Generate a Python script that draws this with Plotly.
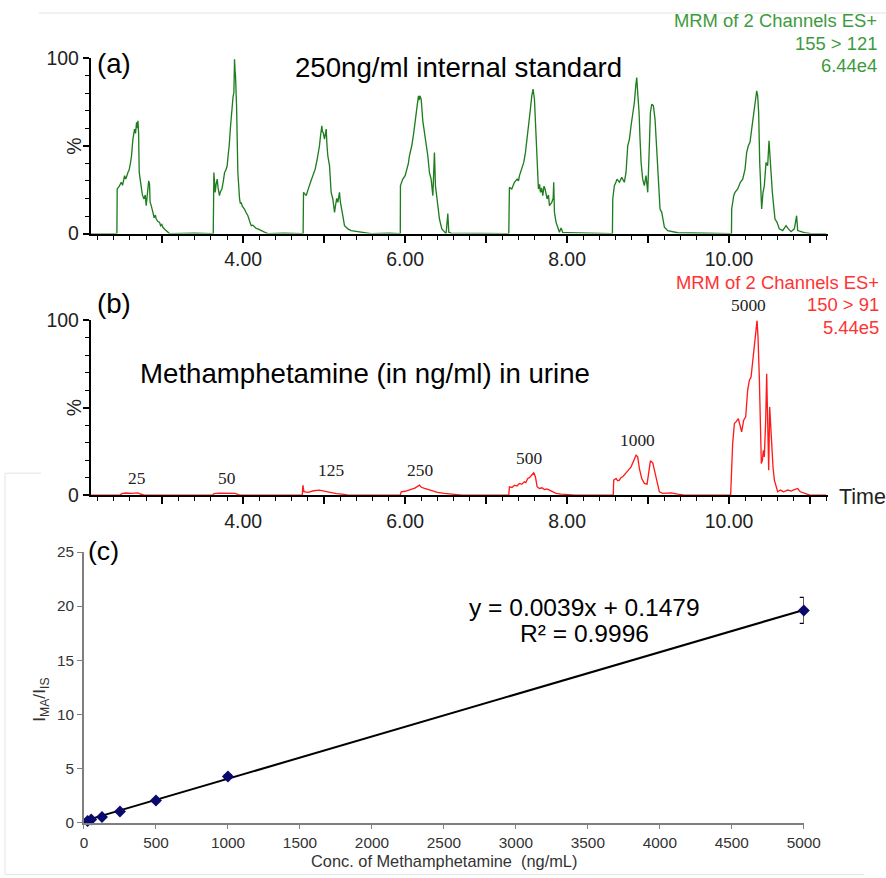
import plotly.graph_objects as go

# target page geometry and the on-screen placement of the figure canvas
PAGE_W, PAGE_H = 886, 878
S = 0.977            # canvas-to-screen scale
BX, BY = 3, 10       # canvas origin on screen
W = round((PAGE_W - BX) / S)
H = round((PAGE_H - BY) / S)

# ---- (a) internal standard chromatogram, 155 > 121 (time in min, % of max) ----
IS_TRACE = [
    (2.12, 0), (2.44, 0),
    (2.444, 25.4), (2.47, 27), (2.494, 29.2), (2.51, 27.5), (2.535, 33), (2.55, 31), (2.576, 34.8),
    (2.59, 36), (2.609, 40.5), (2.62, 44), (2.638, 53.8), (2.658, 59.5), (2.67, 57), (2.683, 63.3),
    (2.69, 60), (2.700, 64.2), (2.708, 57.6), (2.716, 34.8), (2.73, 30), (2.741, 27.3), (2.755, 22),
    (2.774, 19.7), (2.79, 22), (2.802, 15.9), (2.812, 20), (2.823, 23.5), (2.833, 30), (2.843, 28.2),
    (2.85, 18), (2.864, 15.9), (2.875, 13), (2.885, 12.1), (2.9, 9), (2.915, 10.5), (2.926, 8.3),
    (2.945, 7), (2.967, 6.4), (2.98, 4.5), (2.995, 5.2), (3.008, 3.6), (3.03, 2.5), (3.049, 1.7),
    (3.07, 0.8), (3.09, 0), (3.40, 0.3), (3.63, 0),
    (3.638, 34.8), (3.654, 23.5), (3.665, 28), (3.679, 31), (3.69, 26), (3.707, 21.6), (3.72, 24),
    (3.737, 25.4), (3.755, 30), (3.770, 34.8), (3.785, 36), (3.802, 38.6), (3.815, 45), (3.827, 50),
    (3.844, 61.4), (3.864, 74.6), (3.875, 78), (3.885, 80.3), (3.893, 99.2), (3.899, 93), (3.905, 89.8),
    (3.918, 72.7), (3.934, 34.8), (3.945, 25), (3.955, 19.7), (3.965, 17), (3.975, 17.8), (3.99, 15.5),
    (4.016, 14), (4.035, 12), (4.058, 10.2), (4.08, 7), (4.099, 4.5), (4.12, 4.8), (4.140, 3.6),
    (4.16, 2.9), (4.181, 2.7), (4.20, 2.2), (4.222, 1.7), (4.263, 0.8), (4.305, 0), (4.5, 0.3), (4.74, 0),
    (4.745, 23.5), (4.778, 21.6), (4.798, 25.4), (4.815, 27), (4.831, 29.2), (4.86, 33), (4.875, 35),
    (4.889, 36.7), (4.914, 42.4), (4.93, 46), (4.942, 50), (4.955, 55.7), (4.971, 61.4), (4.978, 58),
    (4.988, 57.6), (5.004, 53.8), (5.015, 58), (5.025, 59.5), (5.035, 50), (5.045, 44.3), (5.066, 38.6),
    (5.076, 30), (5.086, 23.5), (5.107, 19.7), (5.12, 15), (5.128, 12.1), (5.14, 16), (5.155, 20),
    (5.169, 17.8), (5.189, 23.5), (5.20, 18), (5.210, 15.9), (5.230, 10.2), (5.251, 4.5), (5.27, 3.5),
    (5.293, 2.7), (5.333, 1.7), (5.416, 1.1), (5.498, 0.8), (5.580, 0), (5.8, 0.2), (5.94, 0),
    (5.942, 27.3), (5.955, 29), (5.971, 31), (6.000, 33), (6.025, 36.7), (6.04, 40), (6.053, 44.3),
    (6.082, 50), (6.107, 57.6), (6.132, 65.2), (6.148, 72.7), (6.165, 78.4), (6.172, 76), (6.181, 78.4),
    (6.198, 76.5), (6.218, 64.2), (6.239, 57.6), (6.259, 50), (6.280, 44.3), (6.300, 34.8), (6.321, 31),
    (6.342, 21.6), (6.352, 30), (6.362, 46.2), (6.374, 27.3), (6.39, 20), (6.404, 15.9), (6.424, 8.3),
    (6.453, 2.7), (6.486, 0.8), (6.506, 0), (6.527, 11.4), (6.539, 0.8), (6.568, 0.3),
    (6.8, 0.3), (7.1, 0.2), (7.28, 0),
    (7.288, 26.3), (7.317, 25.4), (7.33, 27), (7.350, 29.2), (7.383, 31), (7.40, 30), (7.412, 33),
    (7.44, 36.7), (7.465, 40.5), (7.486, 46.2), (7.506, 55.7), (7.527, 63.3), (7.547, 70.8), (7.564, 78.4),
    (7.580, 82.2), (7.597, 76.5), (7.613, 57.6), (7.630, 36.7), (7.646, 25.4), (7.66, 28), (7.671, 23.5),
    (7.685, 26), (7.700, 21.6), (7.715, 27), (7.728, 25.4), (7.753, 19.7), (7.77, 22), (7.782, 15.9),
    (7.811, 17.8), (7.828, 20), (7.835, 29.2), (7.844, 12.1), (7.864, 6.4), (7.885, 3.6), (7.905, 0.8),
    (7.926, 3.2), (7.947, 0.6), (8.009, 0.6), (8.132, 0.4), (8.4, 0.2), (8.56, 0),
    (8.564, 19.7), (8.584, 27.3), (8.60, 29), (8.617, 31), (8.646, 29.2), (8.675, 32), (8.707, 29.2),
    (8.728, 34.8), (8.749, 50), (8.770, 53.8), (8.790, 61.4), (8.811, 67.1), (8.831, 74.6), (8.848, 84.1),
    (8.860, 88.8), (8.872, 80.3), (8.889, 68.9), (8.901, 53.8), (8.914, 40.5), (8.934, 31), (8.954, 27.3),
    (8.975, 33), (8.996, 23.5), (9.016, 50), (9.029, 68.9), (9.046, 73.7), (9.066, 72.7), (9.086, 65.2),
    (9.107, 46.2), (9.127, 31), (9.148, 14), (9.169, 12.1), (9.181, 8.3), (9.202, 3.6), (9.243, 1.7),
    (9.305, 1.1), (9.366, 0.5), (9.7, 0.2), (10.03, 0),
    (10.033, 14), (10.058, 21.6), (10.074, 23.5), (10.107, 25.4), (10.140, 29.2), (10.169, 31),
    (10.198, 36.7), (10.218, 46.2), (10.239, 50), (10.259, 51.9), (10.280, 59.5), (10.296, 65.2),
    (10.313, 72.7), (10.329, 76.5), (10.342, 81.3), (10.354, 78.4), (10.366, 68.9), (10.379, 40.5),
    (10.391, 19.7), (10.403, 14), (10.420, 23.5), (10.436, 27.3), (10.457, 40.5), (10.477, 38.6),
    (10.494, 52.8), (10.506, 44.3), (10.519, 31), (10.535, 23.5), (10.551, 15.9), (10.568, 8.3),
    (10.593, 6.4), (10.621, 2.7), (10.663, 1.7), (10.704, 4.5), (10.733, 2.7), (10.765, 1.1),
    (10.807, 2.7), (10.835, 10.2), (10.848, 1.7), (10.889, 1.1), (10.930, 0.5), (11.012, 0), (11.2, 0),
]

# ---- (b) methamphetamine chromatogram, 150 > 91 ----
MA_TRACE = [
    (2.12, 0), (2.48, 0), (2.50, 0.8), (2.55, 1.2), (2.62, 1.0), (2.70, 1.3), (2.74, 0.5), (2.78, 0),
    (3.62, 0), (3.64, 0.9), (3.70, 1.1), (3.80, 1.2), (3.90, 1.0), (3.94, 0.3), (3.97, 0),
    (4.73, 0), (4.737, 5.7), (4.75, 2.0), (4.80, 1.6), (4.87, 2.5), (4.94, 2.9), (5.00, 2.3), (5.05, 1.7),
    (5.10, 1.2), (5.15, 0.9), (5.22, 0.6), (5.27, 0.2), (5.3, 0),
    (5.94, 0), (5.951, 1.9), (6.0, 2.2), (6.074, 3.2), (6.12, 4.0), (6.177, 5.7), (6.20, 4.5), (6.239, 3.8),
    (6.28, 3.2), (6.321, 2.9), (6.40, 1.6), (6.486, 1.0), (6.56, 0.6), (6.63, 0.2), (6.7, 0),
    (7.28, 0), (7.288, 4.8), (7.320, 4.4), (7.350, 5.7), (7.38, 5.2), (7.412, 6.7), (7.44, 6.2),
    (7.473, 7.6), (7.49, 7.2), (7.514, 9.5), (7.535, 10), (7.556, 11.4), (7.588, 12.8), (7.609, 10.5),
    (7.630, 4.8), (7.658, 3.8), (7.69, 4.2), (7.720, 3.2), (7.75, 3.5), (7.782, 2.9), (7.823, 1.9),
    (7.864, 1.0), (7.926, 0.6), (8.008, 0.4), (8.1, 0),
    (8.57, 0), (8.576, 8.6), (8.605, 9.5), (8.625, 8.2), (8.646, 8.6), (8.665, 10), (8.687, 10.5),
    (8.728, 12.4), (8.757, 14.3), (8.790, 16.2), (8.823, 20), (8.852, 22.9), (8.872, 21.9), (8.893, 15.2),
    (8.922, 9.5), (8.955, 6.7), (8.988, 6.3), (9.012, 16.2), (9.029, 19.6), (9.058, 18.5), (9.078, 14.3),
    (9.099, 8.6), (9.119, 4.8), (9.140, 1.9), (9.181, 1.0), (9.284, 1.3), (9.366, 0.6), (9.45, 0),
    (10.02, 0), (10.033, 23.8), (10.045, 29.5), (10.066, 41), (10.086, 41.9), (10.115, 43.8), (10.14, 38.1),
    (10.156, 36.2), (10.181, 42.9), (10.206, 44.8), (10.230, 60), (10.251, 65.7), (10.272, 67.6),
    (10.292, 75.2), (10.313, 86.7), (10.333, 94.3), (10.346, 100), (10.358, 90.5), (10.374, 67.6),
    (10.387, 39), (10.399, 18.1), (10.412, 20), (10.424, 25.7), (10.436, 21.9), (10.453, 42.9),
    (10.465, 69.5), (10.477, 48.6), (10.490, 14.3), (10.502, 50.5), (10.514, 41), (10.527, 25.7),
    (10.543, 16.2), (10.560, 8.6), (10.580, 4.8), (10.601, 1.9), (10.634, 2.9), (10.675, 1.9),
    (10.724, 2.9), (10.765, 2.3), (10.807, 3.2), (10.848, 3.8), (10.881, 1.9), (10.930, 1.0),
    (10.971, 0.4), (11.0, 0), (11.2, 0),
]

# concentration tag for each MA peak (ng/ml) and the retention time it sits over
MA_LABELS = ["25", "50", "125", "250", "500", "1000", "5000"]
MA_LABEL_TIME = [2.69, 3.80, 5.086, 6.185, 7.531, 8.864, 10.235]

TIME_TICKS = [3, 4, 5, 6, 7, 8, 9, 10, 11]
TIME_TICKTEXT = ["", "4.00", "", "6.00", "", "8.00", "", "10.00", ""]

# ---- (c) calibration curve ----
CONC = [25, 50, 125, 250, 500, 1000, 5000]
RATIO = [0.15, 0.28, 0.52, 1.02, 2.03, 4.25, 19.6]
RATIO_ERR = [0.02, 0.03, 0.05, 0.08, 0.1, 0.15, 1.2]
SLOPE, INTERCEPT, R2 = 0.0039, 0.1479, 0.9996

GREEN = "#1e7d1e"
GREEN_TXT = "#3d9b3d"
RED = "#ff1a1a"
RED_TXT = "#ff3333"


def px(x):
    """screen x pixel -> paper fraction"""
    return ((x - BX) / S) / W


def py(y):
    """screen y pixel -> paper fraction"""
    return 1 - ((y - BY) / S) / H


def sz(v):
    """screen size -> canvas size"""
    return v / S


is_t, is_p = zip(*IS_TRACE)
ma_t, ma_p = zip(*MA_TRACE)

fig = go.Figure()
fig.add_trace(go.Scatter(x=is_t, y=is_p, mode="lines", line=dict(color=GREEN, width=sz(1.3)),
                         xaxis="x", yaxis="y", showlegend=False, hoverinfo="skip"))
fig.add_trace(go.Scatter(x=ma_t, y=ma_p, mode="lines", line=dict(color=RED, width=sz(1.3)),
                         xaxis="x2", yaxis="y2", showlegend=False, hoverinfo="skip"))

# fitted calibration line across the measured range
fit_x = [CONC[0], CONC[-1]]
fit_y = [SLOPE * c + INTERCEPT for c in fit_x]
fig.add_trace(go.Scatter(x=fit_x, y=fit_y, mode="lines", line=dict(color="black", width=sz(2)),
                         xaxis="x3", yaxis="y3", showlegend=False, hoverinfo="skip"))
fig.add_trace(go.Scatter(x=CONC, y=RATIO, mode="markers", xaxis="x3", yaxis="y3",
                         marker=dict(symbol="diamond", size=sz(9), color="#0a0a6e"),
                         error_y=dict(type="data", array=RATIO_ERR, color="black",
                                      thickness=sz(1.2), width=sz(4)),
                         cliponaxis=False, showlegend=False))

chrom_x = dict(range=[2.12, 11.22], showline=True, linecolor="black", linewidth=sz(2), mirror=False,
               ticks="outside", tickmode="array", tickvals=TIME_TICKS, ticktext=TIME_TICKTEXT,
               ticklen=sz(7), tickwidth=sz(1.5), tickcolor="black", showgrid=False, zeroline=False,
               tickfont=dict(family="Arial", size=sz(19), color="#222"),
               minor=dict(tickmode="linear", tick0=0, dtick=0.2, ticks="outside", ticklen=sz(4),
                          tickwidth=sz(1.2), tickcolor="black", showgrid=False))
chrom_y = dict(range=[0, 100], showline=True, linecolor="black", linewidth=sz(2), ticks="outside",
               tickmode="array", tickvals=[0, 50, 100], ticktext=["0", "", "100"], ticklen=sz(6),
               tickwidth=sz(1.5), tickcolor="black", showgrid=False, zeroline=False,
               tickfont=dict(family="Arial", size=sz(19), color="#222"),
               minor=dict(tickmode="linear", tick0=0, dtick=10, ticks="outside", ticklen=sz(3.5),
                          tickwidth=sz(1.2), tickcolor="black", showgrid=False))
calib_axis = dict(showline=True, linecolor="#7f7f7f", linewidth=sz(1.5), ticks="outside",
                  ticklen=sz(5), tickcolor="#7f7f7f", showgrid=False, zeroline=False,
                  tickfont=dict(family="Arial", size=sz(15), color="#333"))

fig.update_layout(
    width=W, height=H, margin=dict(l=0, r=0, t=0, b=0),
    paper_bgcolor="white", plot_bgcolor="white",
    xaxis=dict(domain=[px(90), px(827)], anchor="y", **chrom_x),
    yaxis=dict(domain=[py(233), py(57)], anchor="x", **chrom_y),
    xaxis2=dict(domain=[px(90), px(827)], anchor="y2", **chrom_x),
    yaxis2=dict(domain=[py(495), py(320)], anchor="x2", **chrom_y),
    xaxis3=dict(domain=[px(83), px(803)], anchor="y3", range=[0, 5000], dtick=500, tick0=0, **calib_axis),
    yaxis3=dict(domain=[py(823), py(552)], anchor="x3", range=[0, 25], dtick=5, tick0=0, **calib_axis),
)

ann = []


def text(x, y, s, size, color="black", family="Arial", xanchor="center", angle=0):
    ann.append(dict(x=px(x), y=py(y), xref="paper", yref="paper", text=s, showarrow=False,
                    xanchor=xanchor, yanchor="middle", textangle=angle,
                    font=dict(family=family, size=sz(size), color=color)))


# panel captions
text(113, 63, "(a)", 27)
text(458, 67, "250ng/ml internal standard", 27)
text(113, 303, "(b)", 27)
text(364, 373, "Methamphetamine (in ng/ml) in urine", 27)
text(103, 551, "(c)", 26)

# instrument headers
for i, s in enumerate(["MRM of 2 Channels ES+", "155 > 121", "6.44e4"]):
    text(878, 20 + 22.5 * i, s, 18, GREEN_TXT, xanchor="right")
for i, s in enumerate(["MRM of 2 Channels ES+", "150 > 91", "5.44e5"]):
    text(880, 282 + 22.5 * i, s, 18, RED_TXT, xanchor="right")

# % axis labels and time label
text(73, 145, "%", 19, "#222", angle=-90)
text(73, 407, "%", 19, "#222", angle=-90)
text(836, 497, "Time", 21, "#222", xanchor="left")

# calibration axis titles and fit equation
text(443, 862, "Conc. of Methamphetamine  (ng/mL)", 16, "#333")
text(40, 700, "I<sub>MA</sub>/I<sub>IS</sub>", 17, "#333", angle=-90)
text(584, 608, f"y = {SLOPE}x + {INTERCEPT}", 24)
text(584, 634, f"R² = {R2}", 24)

# concentration tags above each MA peak (apex height taken from the trace)
for lab, t0 in zip(MA_LABELS, MA_LABEL_TIME):
    apex = max(p for t, p in MA_TRACE if abs(t - t0) < 0.35)
    ann.append(dict(x=t0, y=apex, xref="x2", yref="y2", text=lab, showarrow=False,
                    xanchor="center", yanchor="bottom", yshift=sz(3),
                    font=dict(family="Liberation Serif, Times New Roman, serif", size=sz(17), color="#222")))

fig.update_layout(annotations=ann)

# faint frame lines
frame = dict(color="#e4e4e4", width=1)
fig.update_layout(shapes=[
    dict(type="line", xref="paper", yref="paper", x0=px(38), x1=px(886), y0=py(12), y1=py(12), line=frame),
    dict(type="line", xref="paper", yref="paper", x0=px(4), x1=px(4), y0=py(473), y1=py(875), line=frame),
    dict(type="line", xref="paper", yref="paper", x0=px(4), x1=px(40), y0=py(473), y1=py(473), line=frame),
    dict(type="line", xref="paper", yref="paper", x0=px(4), x1=px(863), y0=py(875), y1=py(875), line=frame),
])

fig.write_html("out.html")
